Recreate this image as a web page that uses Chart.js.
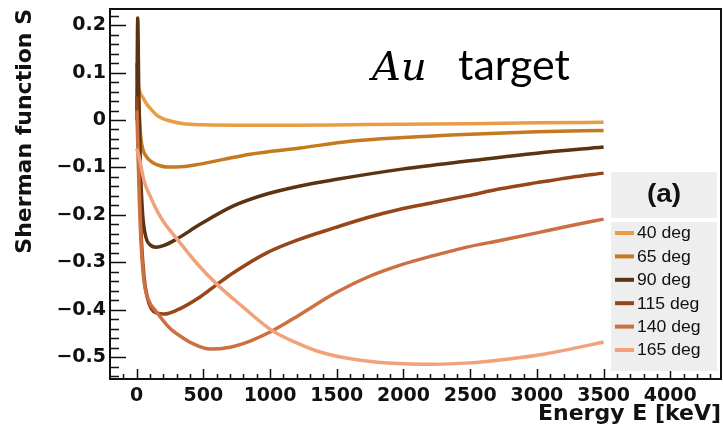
<!DOCTYPE html>
<html>
<head>
<meta charset="utf-8">
<script src="https://cdn.jsdelivr.net/npm/chart.js@4.4.1/dist/chart.umd.min.js"></script>
<style>
  html, body { margin: 0; padding: 0; background: #fff; }
  #wrap { width: 723px; height: 438px; position: relative; }
</style>
</head>
<body>
<div id="wrap"><canvas id="chart"></canvas></div>
<script>
// Sherman function S vs energy, Au target

const angleLabels = ['40 deg', '65 deg', '90 deg', '115 deg', '140 deg', '165 deg'];
const lineColors = ['#e99d45', '#c57a1f', '#5a3313', '#964619', '#cc7043', '#f2a27a'];

const energy40 = [1, 10, 25, 47, 70, 100, 160, 225, 350, 500, 800, 1200, 1600, 2000, 2500, 3000, 3500];
const sherman40 = [0.09, 0.075, 0.058, 0.047, 0.036, 0.025, 0.008, 0.0, -0.008, -0.01, -0.011, -0.011, -0.01, -0.009, -0.008, -0.006, -0.005];

const energy65 = [1, 10, 20, 32, 50, 80, 122, 170, 225, 300, 475, 650, 850, 1225, 1600, 2000, 2500, 3000, 3500];
const sherman65 = [0.12, 0.07, 0.01, -0.04, -0.065, -0.08, -0.09, -0.096, -0.099, -0.099, -0.093, -0.083, -0.072, -0.059, -0.045, -0.037, -0.03, -0.025, -0.022];

const energy90 = [1, 8, 16, 28, 45, 70, 100, 145, 200, 300, 475, 725, 975, 1225, 1500, 2000, 2500, 3000, 3500];
const sherman90 = [0.0, 0.215, 0.05, -0.1, -0.2, -0.248, -0.263, -0.268, -0.265, -0.251, -0.22, -0.181, -0.156, -0.139, -0.125, -0.103, -0.086, -0.07, -0.057];

const energy115 = [1, 10, 20, 35, 55, 80, 110, 150, 205, 300, 475, 600, 725, 975, 1225, 1475, 1725, 1975, 2225, 2475, 2725, 3000, 3250, 3500];
const sherman115 = [0.05, -0.03, -0.13, -0.25, -0.33, -0.375, -0.398, -0.407, -0.409, -0.401, -0.373, -0.347, -0.322, -0.28, -0.251, -0.228, -0.206, -0.188, -0.174, -0.16, -0.145, -0.132, -0.121, -0.112];

const energy140 = [1, 10, 20, 35, 55, 90, 145, 245, 350, 425, 550, 700, 850, 1000, 1225, 1475, 1725, 1975, 2225, 2475, 2725, 3000, 3250, 3500];
const sherman140 = [0.02, -0.07, -0.17, -0.27, -0.34, -0.38, -0.403, -0.438, -0.46, -0.472, -0.483, -0.479, -0.466, -0.447, -0.41, -0.367, -0.332, -0.306, -0.286, -0.268, -0.254, -0.238, -0.223, -0.209];

const energy165 = [0, 20, 55, 100, 150, 200, 300, 450, 600, 800, 1010, 1200, 1350, 1500, 1725, 2000, 2225, 2500, 2725, 3000, 3250, 3500];
const sherman165 = [-0.06, -0.08, -0.128, -0.16, -0.19, -0.214, -0.25, -0.302, -0.346, -0.395, -0.443, -0.47, -0.487, -0.498, -0.508, -0.514, -0.515, -0.512, -0.506, -0.496, -0.483, -0.468];

const energySeries = [energy40, energy65, energy90, energy115, energy140, energy165];
const shermanSeries = [sherman40, sherman65, sherman90, sherman115, sherman140, sherman165];

const xTickValues = [0, 500, 1000, 1500, 2000, 2500, 3000, 3500, 4000];
const yTickValues = [-0.5, -0.4, -0.3, -0.2, -0.1, 0, 0.1, 0.2];

const xRange = [-200, 4380];
const yRange = [-0.546, 0.234];

// ROOT-style frame, inward ticks, legend box and target label
const decorPlugin = {
  id: 'decor',
  afterDraw(chart) {
    const ctx = chart.ctx;
    const a = chart.chartArea;
    const xs = chart.scales.x, ys = chart.scales.y;
    ctx.save();
    ctx.strokeStyle = '#111';
    ctx.lineWidth = 1.5;
    ctx.beginPath();
    // x minor/major ticks
    for (let v = -100; v <= xRange[1]; v += 100) {
      const px = Math.round(xs.getPixelForValue(v)) + 0.5;
      const len = (v % 500 === 0) ? 10 : 5;
      ctx.moveTo(px, a.bottom);
      ctx.lineTo(px, a.bottom - len);
    }
    // y minor/major ticks
    for (let k = -27; k <= 11; k++) {
      const v = k * 0.02;
      const py = Math.round(ys.getPixelForValue(v)) + 0.5;
      const len = (k % 5 === 0) ? 16 : 9;
      ctx.moveTo(a.left, py);
      ctx.lineTo(a.left + len, py);
    }
    ctx.stroke();
    ctx.lineWidth = 2;
    ctx.strokeRect(a.left, a.top, a.right - a.left, a.bottom - a.top);

    // legend
    ctx.fillStyle = '#eeeeee';
    ctx.fillRect(611, 172, 106, 46);
    ctx.fillRect(611, 222, 106, 149);
    ctx.fillStyle = '#111';
    ctx.textBaseline = 'middle';
    ctx.textAlign = 'center';
    ctx.font = 'bold 25px "Liberation Sans"';
    ctx.save();
    ctx.translate(664, 195);
    ctx.scale(1.12, 1);
    ctx.fillText('(a)', 0, 0);
    ctx.restore();
    ctx.textAlign = 'left';
    ctx.font = '16px "Liberation Sans"';
    chart.data.datasets.forEach((ds, i) => {
      const y = 233 + i * 23.4;
      ctx.strokeStyle = ds.borderColor;
      ctx.lineWidth = 4;
      ctx.beginPath();
      ctx.moveTo(615, y);
      ctx.lineTo(634, y);
      ctx.stroke();
      ctx.save();
      ctx.translate(637, y + 1);
      ctx.scale(1.1, 1);
      ctx.fillStyle = '#111';
      ctx.fillText(ds.label, 0, 0);
      ctx.restore();
    });

    // target annotation
    ctx.fillStyle = '#000';
    ctx.textBaseline = 'alphabetic';
    ctx.font = 'italic 40px "DejaVu Serif"';
    ctx.fillText('Au', 372, 80);
    ctx.font = '43px Lato';
    ctx.fillText('target', 458, 80);
    ctx.restore();
  }
};

const fmtTick = v => {
  if (Math.abs(v) < 1e-9) return '0';
  return v < 0 ? '\u2212' + Math.abs(v).toFixed(1) : v.toFixed(1);
};

const ctx = document.getElementById('chart').getContext('2d');
new Chart(ctx, {
  type: 'line',
  data: {
    datasets: angleLabels.map((label, i) => ({
      label: label,
      data: energySeries[i].map((e, k) => ({ x: e, y: shermanSeries[i][k] })),
      borderColor: lineColors[i],
      backgroundColor: lineColors[i],
      borderWidth: 3.5,
      pointRadius: 0,
      fill: false,
      cubicInterpolationMode: 'monotone',
      order: angleLabels.length - i
    }))
  },
  options: {
    responsive: true,
    maintainAspectRatio: false,
    animation: false,
    devicePixelRatio: 1,
    layout: { padding: { top: 9, right: 2, left: 0, bottom: 0 } },
    plugins: {
      legend: { display: false },
      tooltip: { enabled: false }
    },
    scales: {
      x: {
        type: 'linear',
        min: xRange[0],
        max: xRange[1],
        afterBuildTicks: s => { s.ticks = xTickValues.map(v => ({ value: v })); },
        afterFit: s => { s.height = 59; s.paddingLeft = 0; s.paddingRight = 0; },
        grid: { display: false, drawTicks: false },
        border: { display: false },
        ticks: {
          color: '#111',
          padding: 6,
          maxRotation: 0,
          autoSkip: false,
          font: { family: 'DejaVu Sans', weight: 'bold', size: 19 },
          callback: v => String(v)
        },
        title: {
          display: true,
          text: 'Energy E [keV]',
          align: 'end',
          color: '#111',
          padding: { top: 0, bottom: 11 },
          font: { family: 'DejaVu Sans', weight: 'bold', size: 22 }
        }
      },
      y: {
        type: 'linear',
        min: yRange[0],
        max: yRange[1],
        afterBuildTicks: s => { s.ticks = yTickValues.map(v => ({ value: v })); },
        afterFit: s => { s.width = 110; s.paddingTop = 0; s.paddingBottom = 0; },
        grid: { display: false, drawTicks: false },
        border: { display: false },
        ticks: {
          color: '#111',
          padding: 4,
          autoSkip: false,
          font: { family: 'DejaVu Sans', weight: 'bold', size: 19 },
          callback: v => fmtTick(v)
        },
        title: {
          display: true,
          text: 'Sherman function S',
          align: 'end',
          color: '#111',
          padding: { top: 12, bottom: 0 },
          font: { family: 'DejaVu Sans', weight: 'bold', size: 22 }
        }
      }
    }
  },
  plugins: [decorPlugin]
});
</script>
</body>
</html>
